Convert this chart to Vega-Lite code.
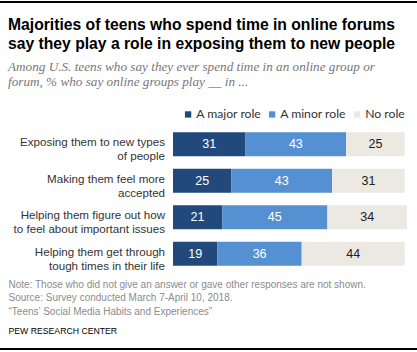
{
  "$schema": "https://vega.github.io/schema/vega-lite/v6.json",
  "width": 417,
  "height": 146,
  "autosize": {"type": "none"},
  "padding": {"left": 0, "top": 126, "right": 0, "bottom": 80},
  "background": "white",
  "config": {
    "view": {"stroke": null},
    "font": "Liberation Sans",
    "text": {"lineBreak": "\n"}
  },
  "title": {
    "text": ["Majorities of teens who spend time in online forums", "say they play a role in exposing them to new people"],
    "subtitle": ["Among U.S. teens who say they ever spend time in an online group or", "forum, % who say online groups play __ in ..."],
    "anchor": "start",
    "frame": "group",
    "dx": 8,
    "offset": -88,
    "font": "Liberation Sans",
    "fontSize": 15.7,
    "fontWeight": "bold",
    "color": "#000000",
    "lineHeight": 19,
    "subtitleFont": "Liberation Serif",
    "subtitleFontStyle": "italic",
    "subtitleFontSize": 13.2,
    "subtitleColor": "#777777",
    "subtitleLineHeight": 15.5,
    "subtitlePadding": 8
  },
  "data": {
    "values": [
      {"item": "Exposing them to new types\nof people", "role": "A major role", "value": 31, "ord": 1},
      {"item": "Exposing them to new types\nof people", "role": "A minor role", "value": 43, "ord": 2},
      {"item": "Exposing them to new types\nof people", "role": "No role", "value": 25, "ord": 3},
      {"item": "Making them feel more\naccepted", "role": "A major role", "value": 25, "ord": 1},
      {"item": "Making them feel more\naccepted", "role": "A minor role", "value": 43, "ord": 2},
      {"item": "Making them feel more\naccepted", "role": "No role", "value": 31, "ord": 3},
      {"item": "Helping them figure out how\nto feel about important issues", "role": "A major role", "value": 21, "ord": 1},
      {"item": "Helping them figure out how\nto feel about important issues", "role": "A minor role", "value": 45, "ord": 2},
      {"item": "Helping them figure out how\nto feel about important issues", "role": "No role", "value": 34, "ord": 3},
      {"item": "Helping them get through\ntough times in their life", "role": "A major role", "value": 19, "ord": 1},
      {"item": "Helping them get through\ntough times in their life", "role": "A minor role", "value": 36, "ord": 2},
      {"item": "Helping them get through\ntough times in their life", "role": "No role", "value": 44, "ord": 3}
    ]
  },
  "layer": [
    {
      "encoding": {
        "y": {
          "field": "item",
          "type": "nominal",
          "sort": ["Exposing them to new types\nof people", "Making them feel more\naccepted", "Helping them figure out how\nto feel about important issues", "Helping them get through\ntough times in their life"],
          "scale": {"paddingInner": 0.342, "paddingOuter": 0.171},
          "axis": {
            "orient": "left",
            "labels": false,
            "ticks": false,
            "domain": false,
            "grid": false,
            "title": "PEW RESEARCH CENTER",
            "titleAngle": 0,
            "titleAlign": "left",
            "titleBaseline": "alphabetic",
            "titleX": 8,
            "titleY": 207,
            "titleFont": "Liberation Sans",
            "titleFontSize": 8.7,
            "titleFontWeight": "normal",
            "titleColor": "#000000"
          }
        }
      },
      "layer": [
        {
          "mark": {"type": "bar"},
          "encoding": {
            "x": {
              "field": "value",
              "type": "quantitative",
              "stack": "zero",
              "scale": {"domain": [-73.93, 104.27], "nice": false, "zero": false},
              "axis": {
                "orient": "bottom",
                "offset": 77,
                "labels": false,
                "ticks": false,
                "grid": false,
                "domain": false,
                "title": ["Note: Those who did not give an answer or gave other responses are not shown.", "Source: Survey conducted March 7-April 10, 2018.", "\u201cTeens\u2019 Social Media Habits and Experiences\u201d"],
                "titleAnchor": "start",
                "titleAlign": "left",
                "titleBaseline": "alphabetic",
                "titleX": 8,
                "titleY": -62,
                "titleFont": "Liberation Sans",
                "titleFontSize": 10,
                "titleFontWeight": "normal",
                "titleColor": "#8c8c8c",
                "titleLineHeight": 13.5
              }
            },
            "color": {
              "field": "role",
              "type": "nominal",
              "scale": {"domain": ["A major role", "A minor role", "No role"], "range": ["#22497c", "#5590d3", "#ece9e2"]},
              "legend": {
                "orient": "none",
                "legendX": 182,
                "legendY": -18,
                "direction": "horizontal",
                "title": null,
                "symbolType": "square",
                "symbolSize": 40,
                "symbolStrokeWidth": 0,
                "labelFont": "Lato",
                "labelFontSize": 12.2,
                "labelColor": "#333333",
                "labelOffset": 2,
                "columnPadding": 4
              }
            },
            "order": {"field": "ord", "type": "quantitative"}
          }
        },
        {
          "mark": {"type": "text", "font": "Liberation Sans", "fontSize": 12.5, "baseline": "middle"},
          "encoding": {
            "x": {"field": "value", "type": "quantitative", "stack": "zero", "bandPosition": 0.5},
            "text": {"field": "value", "type": "quantitative"},
            "detail": {"field": "role"},
            "order": {"field": "ord", "type": "quantitative"},
            "color": {
              "condition": {"test": "datum.role === 'No role'", "value": "#222222"},
              "value": "#ffffff"
            }
          }
        },
        {
          "mark": {"type": "text", "font": "Liberation Sans", "fontSize": 11.6, "align": "right", "baseline": "middle", "lineHeight": 14, "dy": -1, "color": "#333333"},
          "encoding": {
            "x": {"datum": -3.4, "type": "quantitative"},
            "text": {"field": "item"}
          },
          "transform": [{"filter": "datum.ord === 1"}]
        }
      ]
    },
    {
      "mark": {"type": "rule", "color": "#000000", "strokeWidth": 1, "opacity": 1},
      "encoding": {
        "y": {"datum": 1, "type": "quantitative", "scale": {"domain": [0.2218, 0.6425], "nice": false, "zero": false, "clamp": false}, "axis": null}
      }
    },
    {
      "mark": {"type": "rule", "color": "#000000", "strokeWidth": 1, "opacity": 1},
      "encoding": {
        "y": {"datum": 0, "type": "quantitative", "scale": {"domain": [0.2218, 0.6425], "nice": false, "zero": false, "clamp": false}, "axis": null}
      }
    }
  ],
  "resolve": {"scale": {"y": "independent"}, "axis": {"y": "independent"}}
}
